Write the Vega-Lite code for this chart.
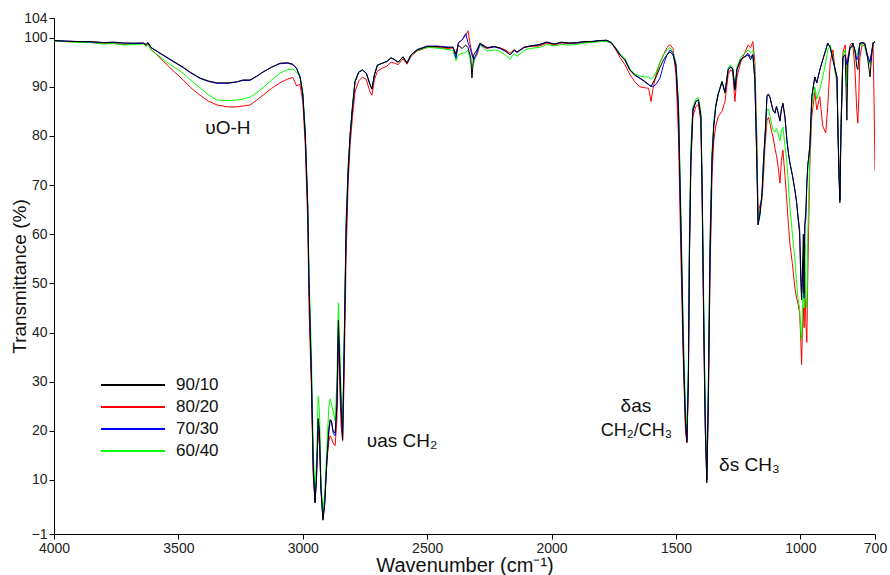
{
  "$schema": "https://vega.github.io/schema/vega-lite/v6.json",
  "width": 821,
  "height": 516,
  "autosize": {"type": "none"},
  "padding": {"left": 54, "top": 18, "right": 15, "bottom": 41},
  "config": {
    "view": {"stroke": null},
    "font": "Liberation Sans",
    "axis": {"grid": false, "domainColor": "#000", "tickColor": "#000", "tickSize": 5, "labelFontSize": 14, "labelColor": "#222", "titleFontSize": 20, "titleFontWeight": "normal", "titleColor": "#111", "labelFlush": false, "labelOverlap": false, "labelFont": "Liberation Sans", "titleFont": "Liberation Sans"}
  },
  "layer": [
    {
      "data": {"values": [
        {"w":4000,"90/10":99.4,"80/20":99.3,"70/30":99.4,"60/40":99.3},
        {"w":3950,"90/10":99.3,"80/20":99.2,"70/30":99.3,"60/40":99.2},
        {"w":3900,"90/10":99.2,"80/20":99.1,"70/30":99.2,"60/40":99.0},
        {"w":3850,"90/10":99.2,"80/20":99.0,"70/30":99.1,"60/40":99.0},
        {"w":3800,"90/10":99.0,"80/20":98.8,"70/30":99.0,"60/40":98.7},
        {"w":3760,"90/10":99.1,"80/20":98.9,"70/30":99.0,"60/40":98.8},
        {"w":3720,"90/10":98.9,"80/20":98.6,"70/30":98.9,"60/40":98.5},
        {"w":3680,"90/10":98.9,"80/20":98.8,"70/30":98.8,"60/40":98.6},
        {"w":3640,"90/10":98.9,"80/20":98.8,"70/30":98.9,"60/40":98.7},
        {"w":3630,"90/10":98.6,"80/20":98.3,"70/30":98.6,"60/40":98.2},
        {"w":3622,"90/10":99.0,"80/20":98.8,"70/30":99.0,"60/40":98.6},
        {"w":3610,"90/10":98.0,"80/20":97.6,"70/30":98.0,"60/40":97.5},
        {"w":3574,"90/10":96.9,"80/20":95.9,"70/30":96.8,"60/40":96.1},
        {"w":3530,"90/10":95.5,"80/20":93.7,"70/30":95.4,"60/40":94.4},
        {"w":3481,"90/10":94.0,"80/20":91.4,"70/30":93.9,"60/40":92.8},
        {"w":3450,"90/10":92.9,"80/20":89.8,"70/30":92.8,"60/40":91.3},
        {"w":3413,"90/10":91.8,"80/20":88.3,"70/30":91.7,"60/40":89.8},
        {"w":3380,"90/10":91.2,"80/20":87.1,"70/30":91.1,"60/40":88.4},
        {"w":3345,"90/10":90.8,"80/20":86.3,"70/30":90.7,"60/40":87.3},
        {"w":3300,"90/10":90.8,"80/20":85.9,"70/30":90.7,"60/40":87.2},
        {"w":3265,"90/10":91.0,"80/20":85.9,"70/30":91.0,"60/40":87.3},
        {"w":3240,"90/10":91.4,"80/20":86.1,"70/30":91.3,"60/40":87.5},
        {"w":3212,"90/10":91.4,"80/20":86.3,"70/30":91.3,"60/40":87.9},
        {"w":3185,"90/10":92.2,"80/20":87.3,"70/30":92.1,"60/40":88.8},
        {"w":3160,"90/10":93.0,"80/20":88.3,"70/30":93.0,"60/40":89.8},
        {"w":3125,"90/10":94.0,"80/20":89.7,"70/30":94.0,"60/40":91.4},
        {"w":3092,"90/10":94.8,"80/20":90.8,"70/30":94.7,"60/40":92.8},
        {"w":3060,"90/10":94.9,"80/20":91.6,"70/30":94.8,"60/40":93.5},
        {"w":3040,"90/10":94.6,"80/20":91.9,"70/30":94.5,"60/40":93.6},
        {"w":3025,"90/10":93.8,"80/20":90.2,"70/30":93.7,"60/40":93.0},
        {"w":3011,"90/10":92.0,"80/20":90.5,"70/30":92.0,"60/40":92.0},
        {"w":3000,"90/10":88.5,"80/20":87.0,"70/30":88.5,"60/40":89.0},
        {"w":2990,"90/10":80.0,"80/20":78.0,"70/30":80.5,"60/40":81.0},
        {"w":2980,"90/10":65.0,"80/20":62.0,"70/30":66.0,"60/40":66.0},
        {"w":2975,"90/10":50,"80/20":45,"70/30":50,"60/40":52},
        {"w":2965,"90/10":30,"80/20":28,"70/30":31,"60/40":35},
        {"w":2958,"90/10":12,"80/20":11,"70/30":13,"60/40":16},
        {"w":2951,"90/10":5.3,"80/20":6.0,"70/30":5.5,"60/40":7.0},
        {"w":2945,"90/10":10,"80/20":12,"70/30":10,"60/40":14},
        {"w":2938,"90/10":22.5,"80/20":20,"70/30":22,"60/40":27},
        {"w":2933,"90/10":20,"80/20":17,"70/30":19,"60/40":24},
        {"w":2927,"90/10":8,"80/20":9,"70/30":8,"60/40":10},
        {"w":2919,"90/10":1.8,"80/20":2.5,"70/30":2.0,"60/40":3.5},
        {"w":2912,"90/10":5,"80/20":6,"70/30":5,"60/40":7},
        {"w":2903,"90/10":14,"80/20":14,"70/30":14,"60/40":17},
        {"w":2895,"90/10":20.5,"80/20":18,"70/30":20,"60/40":25},
        {"w":2890,"90/10":22.3,"80/20":19,"70/30":22,"60/40":26.5},
        {"w":2885,"90/10":22,"80/20":18.5,"70/30":22,"60/40":25.5},
        {"w":2878,"90/10":20,"80/20":17.5,"70/30":19.5,"60/40":24},
        {"w":2870,"90/10":19.5,"80/20":17,"70/30":19,"60/40":22},
        {"w":2863,"90/10":25,"80/20":22,"70/30":25,"60/40":30},
        {"w":2857,"90/10":42.5,"80/20":38,"70/30":41,"60/40":46},
        {"w":2852,"90/10":35,"80/20":30,"70/30":33,"60/40":38},
        {"w":2846,"90/10":25,"80/20":21,"70/30":24,"60/40":28},
        {"w":2840,"90/10":18.1,"80/20":18,"70/30":18.5,"60/40":20},
        {"w":2834,"90/10":35,"80/20":30,"70/30":36,"60/40":38},
        {"w":2826,"90/10":60,"80/20":55,"70/30":62,"60/40":62},
        {"w":2818,"90/10":72,"80/20":70,"70/30":73,"60/40":74},
        {"w":2810,"90/10":80,"80/20":78,"70/30":80,"60/40":80},
        {"w":2800,"90/10":86,"80/20":84,"70/30":86,"60/40":86.5},
        {"w":2790,"90/10":91,"80/20":89,"70/30":91,"60/40":91.4},
        {"w":2775,"90/10":93,"80/20":91.2,"70/30":93,"60/40":93},
        {"w":2760,"90/10":93.4,"80/20":92,"70/30":93.4,"60/40":93.5},
        {"w":2745,"90/10":92.8,"80/20":91.5,"70/30":92.8,"60/40":92.8},
        {"w":2730,"90/10":90.5,"80/20":89,"70/30":90.5,"60/40":90.5},
        {"w":2722,"90/10":89.5,"80/20":88.3,"70/30":89.6,"60/40":89.6},
        {"w":2712,"90/10":92.5,"80/20":91.5,"70/30":92.5,"60/40":92.5},
        {"w":2700,"90/10":94.4,"80/20":93.2,"70/30":94.4,"60/40":94.4},
        {"w":2680,"90/10":94.8,"80/20":93.8,"70/30":94.8,"60/40":94.8},
        {"w":2662,"90/10":95.2,"80/20":94.2,"70/30":95.1,"60/40":95.2},
        {"w":2645,"90/10":95.9,"80/20":95.0,"70/30":95.9,"60/40":95.9},
        {"w":2630,"90/10":95.5,"80/20":94.8,"70/30":95.4,"60/40":95.5},
        {"w":2617,"90/10":95.0,"80/20":94.5,"70/30":95.0,"60/40":95.0},
        {"w":2597,"90/10":96.1,"80/20":95.7,"70/30":96.1,"60/40":96.0},
        {"w":2581,"90/10":94.8,"80/20":94.6,"70/30":94.9,"60/40":94.9},
        {"w":2565,"90/10":96.5,"80/20":96.2,"70/30":96.5,"60/40":96.5},
        {"w":2540,"90/10":97.5,"80/20":97.3,"70/30":97.6,"60/40":97.4},
        {"w":2500,"90/10":98.2,"80/20":98.0,"70/30":98.3,"60/40":98.0},
        {"w":2460,"90/10":98.2,"80/20":98.0,"70/30":98.3,"60/40":97.9},
        {"w":2420,"90/10":98.0,"80/20":97.8,"70/30":98.1,"60/40":97.6},
        {"w":2396,"90/10":98.1,"80/20":97.9,"70/30":98.0,"60/40":97.4},
        {"w":2384,"90/10":96.5,"80/20":96.8,"70/30":95.8,"60/40":95.3},
        {"w":2375,"90/10":98.5,"80/20":98.8,"70/30":99.0,"60/40":96.5},
        {"w":2360,"90/10":97.8,"80/20":99.5,"70/30":99.5,"60/40":96.8},
        {"w":2345,"90/10":98.5,"80/20":100.5,"70/30":100.8,"60/40":97.0},
        {"w":2336,"90/10":98.0,"80/20":101.4,"70/30":99.0,"60/40":97.5},
        {"w":2325,"90/10":96.0,"80/20":98.0,"70/30":97.5,"60/40":95.0},
        {"w":2320,"90/10":91.8,"80/20":97.0,"70/30":96.5,"60/40":94.0},
        {"w":2313,"90/10":96.5,"80/20":95.5,"70/30":95.5,"60/40":94.8},
        {"w":2300,"90/10":97.5,"80/20":96.5,"70/30":97.0,"60/40":97.0},
        {"w":2288,"90/10":98.9,"80/20":98.5,"70/30":98.7,"60/40":98.5},
        {"w":2260,"90/10":98.0,"80/20":97.8,"70/30":97.9,"60/40":97.3},
        {"w":2230,"90/10":98.2,"80/20":98.2,"70/30":98.1,"60/40":97.5},
        {"w":2207,"90/10":97.9,"80/20":97.9,"70/30":97.8,"60/40":97.2},
        {"w":2185,"90/10":97.3,"80/20":97.5,"70/30":97.2,"60/40":96.4},
        {"w":2167,"90/10":96.5,"80/20":96.8,"70/30":96.5,"60/40":95.6},
        {"w":2150,"90/10":97.5,"80/20":97.6,"70/30":97.4,"60/40":96.8},
        {"w":2139,"90/10":97.1,"80/20":97.0,"70/30":97.0,"60/40":96.2},
        {"w":2110,"90/10":98.1,"80/20":98.0,"70/30":98.0,"60/40":97.4},
        {"w":2087,"90/10":98.3,"80/20":98.2,"70/30":98.3,"60/40":97.8},
        {"w":2050,"90/10":98.6,"80/20":98.3,"70/30":98.5,"60/40":98.0},
        {"w":2019,"90/10":99.1,"80/20":98.9,"70/30":99.1,"60/40":98.6},
        {"w":1990,"90/10":98.7,"80/20":98.5,"70/30":98.7,"60/40":98.3},
        {"w":1960,"90/10":99.1,"80/20":98.9,"70/30":99.0,"60/40":98.6},
        {"w":1930,"90/10":98.9,"80/20":98.8,"70/30":98.9,"60/40":98.5},
        {"w":1900,"90/10":99.0,"80/20":98.9,"70/30":98.9,"60/40":98.6},
        {"w":1870,"90/10":99.2,"80/20":99.0,"70/30":99.2,"60/40":98.9},
        {"w":1840,"90/10":99.2,"80/20":99.1,"70/30":99.2,"60/40":99.0},
        {"w":1810,"90/10":99.4,"80/20":99.3,"70/30":99.4,"60/40":99.2},
        {"w":1778,"90/10":99.5,"80/20":99.3,"70/30":99.4,"60/40":99.2},
        {"w":1760,"90/10":99.0,"80/20":98.9,"70/30":99.0,"60/40":98.9},
        {"w":1745,"90/10":98.0,"80/20":97.8,"70/30":98.0,"60/40":98.2},
        {"w":1725,"90/10":96.5,"80/20":96.0,"70/30":96.5,"60/40":96.7},
        {"w":1705,"90/10":95.5,"80/20":94.5,"70/30":95.4,"60/40":95.8},
        {"w":1685,"90/10":93.4,"80/20":92.5,"70/30":93.4,"60/40":93.6},
        {"w":1665,"90/10":92.4,"80/20":91.0,"70/30":92.3,"60/40":92.6},
        {"w":1645,"90/10":91.8,"80/20":90.0,"70/30":91.7,"60/40":92.2},
        {"w":1625,"90/10":91.1,"80/20":89.8,"70/30":91.0,"60/40":92.0},
        {"w":1610,"90/10":90.5,"80/20":89.7,"70/30":90.4,"60/40":92.0},
        {"w":1600,"90/10":90.0,"80/20":87.0,"70/30":90.2,"60/40":91.5},
        {"w":1593,"90/10":90.8,"80/20":89.5,"70/30":90.0,"60/40":91.8},
        {"w":1580,"90/10":92.0,"80/20":92.5,"70/30":90.5,"60/40":93.0},
        {"w":1564,"90/10":94.0,"80/20":95.0,"70/30":91.8,"60/40":95.0},
        {"w":1550,"90/10":95.5,"80/20":96.5,"70/30":94.5,"60/40":96.5},
        {"w":1536,"90/10":96.5,"80/20":98.0,"70/30":96.5,"60/40":97.5},
        {"w":1524,"90/10":97.1,"80/20":98.6,"70/30":97.5,"60/40":98.0},
        {"w":1512,"90/10":96.5,"80/20":97.8,"70/30":96.8,"60/40":97.0},
        {"w":1500,"90/10":94.0,"80/20":92.5,"70/30":94.5,"60/40":95.0},
        {"w":1490,"90/10":85,"80/20":80,"70/30":86,"60/40":87},
        {"w":1480,"90/10":60,"80/20":55,"70/30":62,"60/40":64},
        {"w":1470,"90/10":35,"80/20":33,"70/30":37,"60/40":40},
        {"w":1462,"90/10":22,"80/20":20,"70/30":22,"60/40":25},
        {"w":1456,"90/10":17.7,"80/20":17.5,"70/30":18.0,"60/40":20},
        {"w":1450,"90/10":30,"80/20":30,"70/30":32,"60/40":35},
        {"w":1446,"90/10":55,"80/20":55,"70/30":57,"60/40":60},
        {"w":1440,"90/10":75,"80/20":74,"70/30":76,"60/40":78},
        {"w":1432,"90/10":85,"80/20":84,"70/30":85.5,"60/40":86},
        {"w":1420,"90/10":87,"80/20":86,"70/30":87,"60/40":87.5},
        {"w":1410,"90/10":87.3,"80/20":86.4,"70/30":87.4,"60/40":87.8},
        {"w":1400,"90/10":84,"80/20":83,"70/30":84,"60/40":85},
        {"w":1395,"90/10":70,"80/20":68,"70/30":70,"60/40":72},
        {"w":1388,"90/10":40,"80/20":38,"70/30":42,"60/40":45},
        {"w":1382,"90/10":20,"80/20":20,"70/30":22,"60/40":24},
        {"w":1376,"90/10":9.4,"80/20":10.5,"70/30":10,"60/40":12},
        {"w":1370,"90/10":25,"80/20":25,"70/30":28,"60/40":30},
        {"w":1363,"90/10":55,"80/20":52,"70/30":58,"60/40":60},
        {"w":1355,"90/10":75,"80/20":72,"70/30":76,"60/40":77},
        {"w":1348,"90/10":82,"80/20":79,"70/30":82,"60/40":83},
        {"w":1340,"90/10":86,"80/20":82,"70/30":86,"60/40":86.5},
        {"w":1330,"90/10":88.5,"80/20":84,"70/30":88.5,"60/40":88.8},
        {"w":1315,"90/10":91,"80/20":85,"70/30":91,"60/40":91.2},
        {"w":1303,"90/10":88.7,"80/20":87,"70/30":89,"60/40":89},
        {"w":1290,"90/10":93.5,"80/20":92.5,"70/30":93.6,"60/40":93.8},
        {"w":1280,"90/10":94,"80/20":93.5,"70/30":94.1,"60/40":94.5},
        {"w":1272,"90/10":93.5,"80/20":93,"70/30":93.7,"60/40":94},
        {"w":1263,"90/10":89.3,"80/20":87,"70/30":89.5,"60/40":90},
        {"w":1255,"90/10":93.5,"80/20":92,"70/30":93.5,"60/40":94},
        {"w":1240,"90/10":95.5,"80/20":95,"70/30":95.5,"60/40":96},
        {"w":1223,"90/10":96.1,"80/20":97,"70/30":96.2,"60/40":96.8},
        {"w":1210,"90/10":96.5,"80/20":98.5,"70/30":96.8,"60/40":97.5},
        {"w":1200,"90/10":95.5,"80/20":98,"70/30":96,"60/40":97},
        {"w":1191,"90/10":96.5,"80/20":99.2,"70/30":96.6,"60/40":97.5},
        {"w":1183,"90/10":91.4,"80/20":95,"70/30":91.5,"60/40":93},
        {"w":1175,"90/10":74.5,"80/20":80,"70/30":75,"60/40":78},
        {"w":1170,"90/10":61.9,"80/20":64,"70/30":62,"60/40":63},
        {"w":1162,"90/10":64,"80/20":66,"70/30":64.5,"60/40":65},
        {"w":1154,"90/10":68.4,"80/20":67,"70/30":68.5,"60/40":68},
        {"w":1148,"90/10":75,"80/20":72,"70/30":75,"60/40":74},
        {"w":1142,"90/10":79.8,"80/20":78,"70/30":80,"60/40":80},
        {"w":1134,"90/10":88.3,"80/20":83.2,"70/30":88.0,"60/40":85.3},
        {"w":1128,"90/10":88.5,"80/20":83.8,"70/30":88.4,"60/40":85.5},
        {"w":1122,"90/10":87.9,"80/20":82.5,"70/30":87.8,"60/40":84},
        {"w":1116,"90/10":86.5,"80/20":81,"70/30":86.4,"60/40":82.5},
        {"w":1110,"90/10":85.3,"80/20":79.8,"70/30":85.2,"60/40":81.2},
        {"w":1102,"90/10":84.7,"80/20":77.5,"70/30":84.6,"60/40":80.8},
        {"w":1096,"90/10":86.0,"80/20":76.0,"70/30":86.0,"60/40":81.5},
        {"w":1090,"90/10":84.9,"80/20":74.0,"70/30":84.7,"60/40":80.6},
        {"w":1082,"90/10":83.2,"80/20":70.4,"70/30":83.0,"60/40":79.0},
        {"w":1076,"90/10":85.5,"80/20":75.0,"70/30":85.4,"60/40":81.0},
        {"w":1070,"90/10":86.7,"80/20":77.1,"70/30":86.5,"60/40":81.8},
        {"w":1062,"90/10":83.9,"80/20":72,"70/30":83.8,"60/40":78},
        {"w":1054,"90/10":79.2,"80/20":66.4,"70/30":79,"60/40":74.5},
        {"w":1048,"90/10":76.5,"80/20":62,"70/30":76.5,"60/40":70},
        {"w":1042,"90/10":74.5,"80/20":58,"70/30":74.5,"60/40":65.5},
        {"w":1032,"90/10":72,"80/20":54,"70/30":72,"60/40":60},
        {"w":1022,"90/10":69.0,"80/20":49,"70/30":69,"60/40":55},
        {"w":1015,"90/10":66.5,"80/20":47,"70/30":66.5,"60/40":50},
        {"w":1010,"90/10":63.5,"80/20":46,"70/30":64,"60/40":47},
        {"w":1003,"90/10":60.2,"80/20":44,"70/30":61,"60/40":45},
        {"w":998,"90/10":50,"80/20":38,"70/30":52,"60/40":40},
        {"w":995,"90/10":46.6,"80/20":33.5,"70/30":48,"60/40":38.5},
        {"w":992,"90/10":52,"80/20":40,"70/30":50,"60/40":44},
        {"w":988,"90/10":60,"80/20":45,"70/30":55,"60/40":50},
        {"w":985,"90/10":48,"80/20":41,"70/30":47,"60/40":45},
        {"w":982,"90/10":62,"80/20":50,"70/30":62,"60/40":58},
        {"w":978,"90/10":65,"80/20":42,"70/30":63,"60/40":47},
        {"w":974,"90/10":70.4,"80/20":38,"70/30":70,"60/40":45},
        {"w":970,"90/10":74,"80/20":52,"70/30":74,"60/40":60},
        {"w":962,"90/10":77.8,"80/20":74,"70/30":78,"60/40":76},
        {"w":954,"90/10":88,"80/20":84,"70/30":88,"60/40":86},
        {"w":942,"90/10":92,"80/20":89,"70/30":92,"60/40":90},
        {"w":934,"90/10":90.8,"80/20":85.3,"70/30":90.8,"60/40":87.5},
        {"w":922,"90/10":93.4,"80/20":88,"70/30":93.4,"60/40":89.5},
        {"w":910,"90/10":95.5,"80/20":82,"70/30":95.5,"60/40":92},
        {"w":898,"90/10":97.5,"80/20":80.6,"70/30":97.5,"60/40":95},
        {"w":890,"90/10":98.9,"80/20":86,"70/30":98.9,"60/40":97.5},
        {"w":880,"90/10":98,"80/20":95,"70/30":98,"60/40":98.5},
        {"w":869,"90/10":95.5,"80/20":97.5,"70/30":95.5,"60/40":96},
        {"w":860,"90/10":93.5,"80/20":93,"70/30":93.5,"60/40":93},
        {"w":853,"90/10":92.0,"80/20":91,"70/30":92,"60/40":91.5},
        {"w":849,"90/10":81.2,"80/20":82,"70/30":81.5,"60/40":82},
        {"w":845,"90/10":72,"80/20":74,"70/30":73,"60/40":73},
        {"w":841,"90/10":66.4,"80/20":68,"70/30":67,"60/40":67},
        {"w":837,"90/10":80,"80/20":82,"70/30":81,"60/40":82},
        {"w":833,"90/10":88,"80/20":89,"70/30":88,"60/40":89},
        {"w":829,"90/10":96.1,"80/20":97,"70/30":96,"60/40":96.5},
        {"w":820,"90/10":96.5,"80/20":98.5,"70/30":96.5,"60/40":97.5},
        {"w":813,"90/10":83.2,"80/20":92,"70/30":94.5,"60/40":90},
        {"w":809,"90/10":94.8,"80/20":96,"70/30":95.5,"60/40":95},
        {"w":800,"90/10":98,"80/20":98.5,"70/30":98,"60/40":98},
        {"w":793,"90/10":98.1,"80/20":98.9,"70/30":98.2,"60/40":98.3},
        {"w":789,"90/10":98.9,"80/20":98.5,"70/30":98.9,"60/40":98.5},
        {"w":781,"90/10":97.5,"80/20":94,"70/30":97.5,"60/40":97},
        {"w":773,"90/10":94.0,"80/20":85,"70/30":95.5,"60/40":96.5},
        {"w":769,"90/10":93.5,"80/20":82.6,"70/30":96,"60/40":97},
        {"w":765,"90/10":96,"80/20":88,"70/30":97.5,"60/40":98},
        {"w":761,"90/10":98.9,"80/20":96,"70/30":98.8,"60/40":98.5},
        {"w":750,"90/10":99,"80/20":99,"70/30":99,"60/40":98.7},
        {"w":741,"90/10":98.9,"80/20":98.5,"70/30":98.6,"60/40":98},
        {"w":730,"90/10":96,"80/20":96,"70/30":96.5,"60/40":96},
        {"w":720,"90/10":92,"80/20":95,"70/30":95,"60/40":94.5},
        {"w":714,"90/10":96,"80/20":97,"70/30":97,"60/40":96.5},
        {"w":708,"90/10":98.9,"80/20":99,"70/30":98.7,"60/40":98.8},
        {"w":704,"90/10":99.1,"80/20":88,"70/30":99,"60/40":99},
        {"w":700,"90/10":99.1,"80/20":73,"70/30":99.2,"60/40":99.2}
      ]},
      "transform": [{"fold": ["80/20", "60/40", "70/30", "90/10"], "as": ["s", "t"]}],
      "mark": {"type": "line", "strokeWidth": 1, "clip": true},
      "encoding": {
        "x": {"field": "w", "type": "quantitative", "scale": {"domain": [700, 4000], "reverse": true, "nice": false, "zero": false},
              "axis": {"values": [4000, 3500, 3000, 2500, 2000, 1500, 1000, 700], "format": "d", "title": "Wavenumber (cm⁻¹)", "titlePadding": 0}},
        "y": {"field": "t", "type": "quantitative", "scale": {"domain": [-1, 104], "nice": false, "zero": false},
              "axis": {"values": [-1, 10, 20, 30, 40, 50, 60, 70, 80, 90, 100, 104], "format": "d", "title": "Transmittance (%)", "titlePadding": -6, "titleFontSize": 19}},
        "color": {"field": "s", "type": "nominal",
                  "scale": {"domain": ["90/10", "80/20", "70/30", "60/40"], "range": ["#000000", "#ff0000", "#0000ff", "#00ff00"]},
                  "legend": {"orient": "none", "legendX": 70, "legendY": 358, "title": null, "symbolType": "M-4,0H4", "symbolSize": 256, "symbolStrokeWidth": 2, "labelFontSize": 17, "labelColor": "#111", "labelOffset": 34, "rowPadding": 5}}
      }
    },
    {
      "data": {"values": [
        {"w": 3301, "t": 81.6, "label": "υO-H"},
        {"w": 2601, "t": 17.9, "label": "υas CH₂"},
        {"w": 1661, "t": 25.0, "label": "δas"},
        {"w": 1205, "t": 13.0, "label": "δs CH₃"}
      ]},
      "mark": {"type": "text", "fontSize": 19, "align": "center", "baseline": "middle", "color": "#111"},
      "encoding": {
        "x": {"field": "w", "type": "quantitative"},
        "y": {"field": "t", "type": "quantitative"},
        "text": {"field": "label"}
      }
    },
    {
      "data": {"values": [
        {"w": 1659, "t": 19.9, "label": "CH₂/CH₃"}
      ]},
      "mark": {"type": "text", "fontSize": 18, "align": "center", "baseline": "middle", "color": "#111"},
      "encoding": {
        "x": {"field": "w", "type": "quantitative"},
        "y": {"field": "t", "type": "quantitative"},
        "text": {"field": "label"}
      }
    }
  ]
}
